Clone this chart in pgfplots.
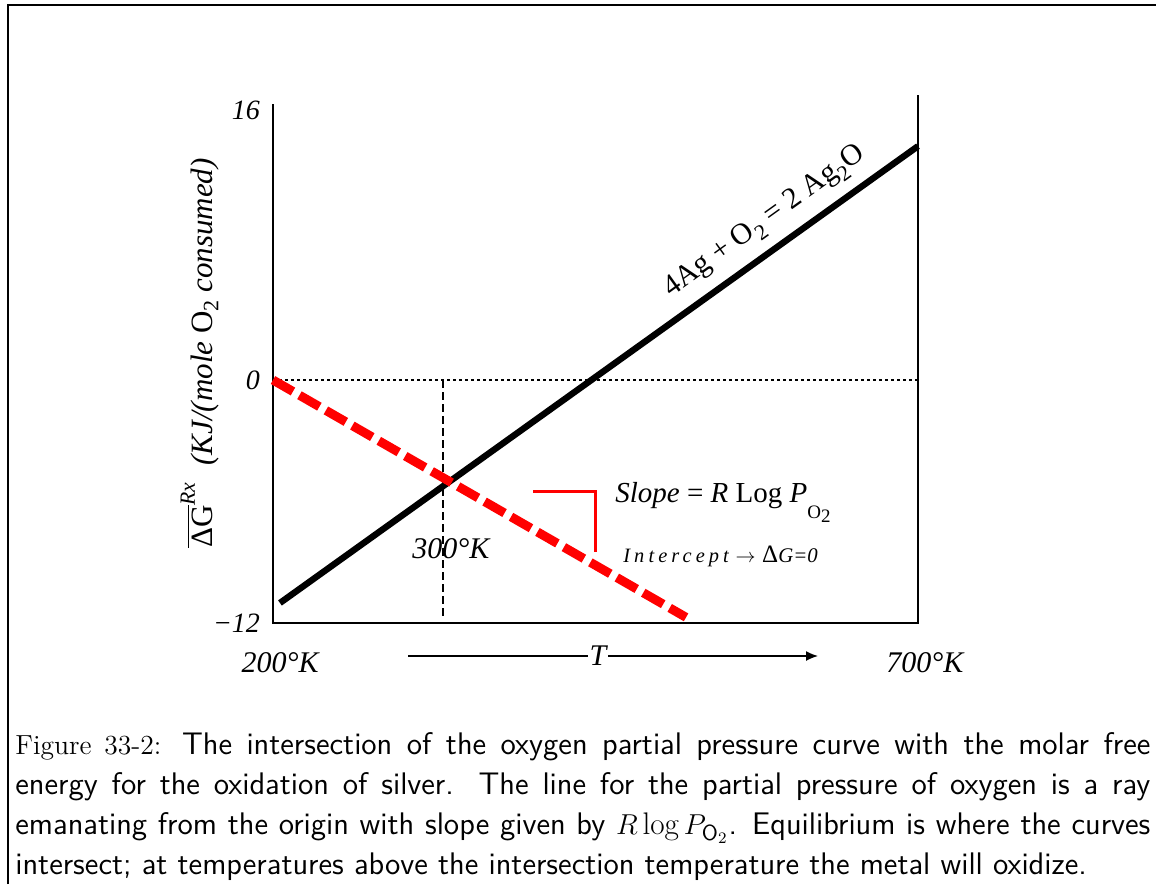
\documentclass[border=0pt]{standalone}
\usepackage{fontspec}
\usepackage{amsmath}
\usepackage{pgfplots}
\pgfplotsset{compat=1.18}
\usetikzlibrary{arrows.meta}
\newfontfamily\tnr{Liberation Serif}
\newfontfamily\tnrls[LetterSpace=20]{Liberation Serif}
\newfontfamily\capsf{lmsans12-regular.otf}
\newcommand\fs[1]{\fontsize{#1}{#1}\selectfont}
\begin{document}
\begin{tikzpicture}
\useasboundingbox (0,0) rectangle (578pt,-442pt);
\draw[line width=1pt] (4pt,-442pt) -- (4pt,-2.5pt) -- (578pt,-2.5pt);
\begin{axis}[
  at={(136.5pt,-311.5pt)}, anchor=south west,
  scale only axis, width=322.5pt, height=261.5pt,
  xmin=200, xmax=700, ymin=-12, ymax=13.83,
  clip=false,
  axis line style={draw=none},
  major tick length=0pt,
  xtick={200,700}, xticklabels={200°K,700°K},
  ytick={-12,0,13.33}, yticklabels={−12,0,16},
  yticklabel style={font=\tnr\itshape\fs{14}, xshift=-3pt},
  xticklabel style={font=\tnr\itshape\fs{15}, yshift=-11pt, xshift=3.5pt},
]
% axis frame (left, bottom, right; no top)
\draw[line width=0.8pt] (rel axis cs:0,0.992) -- (rel axis cs:0,0) -- (rel axis cs:1,0) -- (rel axis cs:1,1.01);
% reference lines
\addplot[black, line width=0.6pt, dash pattern=on 1.5pt off 1.5pt] coordinates {(200,0) (700,0)};
\addplot[black, line width=0.6pt, dash pattern=on 4pt off 2pt] coordinates {(331.8,0) (331.8,-11.75)};
% free energy line
\addplot[black, line width=3.2pt] coordinates {(205.4,-11.01) (700,11.55)};
% oxygen partial pressure ray
\addplot[red, line width=4.5pt, dash pattern=on 11.5pt off 3.75pt] coordinates {(200,0) (520.2,-11.72)};
% slope bracket
\addplot[red, line width=1.3pt] coordinates {(401.6,-5.51) (450,-5.51) (450,-8.47)};
% T arrow
\addplot[black, line width=0.75pt, -{Latex[length=6pt,width=5pt]}] coordinates {(304.65,-13.63) (622.5,-13.63)};
\node[fill=white, inner sep=1pt, font=\tnr\itshape\fs{15}] at (axis cs:451.9,-13.6) {T};
% annotations
\node[rotate=35.67, font=\tnr\fs{15}] at (axis cs:581.4,7.80)
  {4Ag + O\raisebox{-0.55ex}{\fs{11}2} = 2 Ag\raisebox{-0.55ex}{\fs{11}2}O};
\node[anchor=base west, inner sep=0, font=\tnr\fs{14.5}] at (axis cs:465.1,-6.07)
  {\itshape Slope {\upshape =} R {\upshape Log} P\raisebox{-8pt}{\fs{9.5}\upshape O\raisebox{-2pt}{2}}};
\node[anchor=base west, inner sep=0] at (axis cs:471.3,-8.99)
  {{\tnrls\itshape\fs{10.2}Intercept}\,\,{\fs{10}$\rightarrow$}\,\,{\tnr\fs{12.5}Δ}{\tnr\itshape\fs{10.4}G=0}};
\node[anchor=base west, inner sep=0, font=\tnr\itshape\fs{15}] at (axis cs:307.75,-8.79) {300°K};
\end{axis}
% y axis label
\node[rotate=90, font=\tnr\fs{15.5}] at (100pt,-176.5pt)
  {$\overline{\text{ΔG}}^{\text{\itshape Rx}}$\hspace{8pt}{\itshape (KJ/(mole {\upshape O}\raisebox{-0.4ex}{\fs{11}\upshape 2} consumed)}};
% caption
\node[anchor=north west, inner sep=0, text width=567.5pt, align=justify,
      font=\fontsize{15.6}{20}\selectfont] at (7.5pt,-366pt)
  {{\rmfamily\fontsize{13.8}{20}\selectfont Figure 33-2:} \capsf The intersection of the oxygen partial pressure curve with the molar free\linebreak
   energy for the oxidation of silver.  The line for the partial pressure of oxygen is a ray\linebreak
   emanating from the origin with slope given by $R\log P_{\textsf{O}_2}$. Equilibrium is where the curves\linebreak
   intersect; at temperatures above the intersection temperature the metal will oxidize.};
\end{tikzpicture}
\end{document}
